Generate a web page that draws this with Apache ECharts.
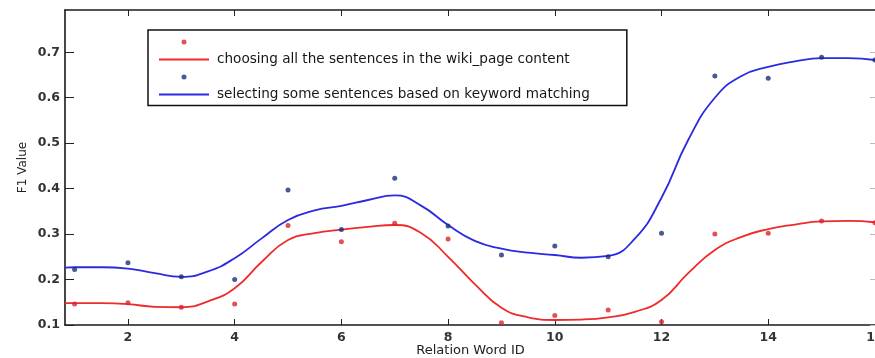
<!DOCTYPE html>
<html>
<head>
<meta charset="utf-8">
<script src="https://cdn.jsdelivr.net/npm/echarts@6/dist/echarts.min.js"></script>
<style>html,body{margin:0;padding:0;background:#fff;}#c{width:875px;height:358px;}</style>
</head>
<body>
<div id="c"></div>
<script>
const xTicks = [2, 4, 6, 8, 10, 12, 14, 16];
const yTicks = [0.1, 0.2, 0.3, 0.4, 0.5, 0.6, 0.7];
const ids = [1, 2, 3, 4, 5, 6, 7, 8, 9, 10, 11, 12, 13, 14, 15, 16];
const allPoints = [0.146, 0.149, 0.139, 0.146, 0.319, 0.283, 0.324, 0.289, 0.105, 0.121, 0.133, 0.107, 0.300, 0.302, 0.329, 0.325];
const kwPoints = [0.222, 0.237, 0.206, 0.200, 0.397, 0.310, 0.423, 0.318, 0.254, 0.274, 0.250, 0.302, 0.648, 0.643, 0.689, 0.683];
const curveX = [0.82, 1, 1.5, 2, 2.5, 3, 3.5, 4, 4.5, 5, 5.5, 6, 6.5, 7, 7.5, 8, 8.5, 9, 9.5, 10, 10.5, 11, 11.5, 12, 12.5, 13, 13.5, 14, 14.5, 15, 15.5, 16];
const allCurve = [0.148, 0.148, 0.148, 0.146, 0.140, 0.139, 0.152, 0.181, 0.238, 0.287, 0.302, 0.310, 0.316, 0.320, 0.302, 0.250, 0.190, 0.138, 0.117, 0.111, 0.112, 0.117, 0.129, 0.155, 0.214, 0.265, 0.294, 0.311, 0.321, 0.328, 0.329, 0.326];
const kwCurve = [0.226, 0.227, 0.227, 0.224, 0.214, 0.206, 0.218, 0.247, 0.290, 0.331, 0.352, 0.362, 0.375, 0.385, 0.362, 0.320, 0.285, 0.268, 0.259, 0.254, 0.248, 0.252, 0.290, 0.380, 0.507, 0.600, 0.648, 0.668, 0.680, 0.687, 0.687, 0.683];
const nameAll = 'choosing all the sentences in the wiki_page content';
const nameKw = 'selecting some sentences based on keyword matching';

const zip = (xs, ys) => xs.map((x, i) => [x, ys[i]]);
const FONT = 'DejaVu Sans';
const axisLine = { show: true, lineStyle: { color: '#1a1a1a', width: 1.6 } };
const hiddenDot = { color: 'rgba(0,0,0,0)', opacity: 0 };

const chart = echarts.init(document.getElementById('c'), null, { renderer: 'canvas' });
chart.setOption({
  animation: false,
  backgroundColor: '#fff',
  grid: { left: 65, right: -1, top: 10, bottom: 33, containLabel: false, outerBoundsMode: 'none' },
  legend: {
    orient: 'vertical',
    left: 148, top: 30,
    padding: [5, 37, 4, 10],
    itemGap: 3.5,
    itemWidth: 50, itemHeight: 5,
    borderColor: '#111', borderWidth: 1.5,
    textStyle: { fontFamily: FONT, fontSize: 13.6, color: '#161616', lineHeight: 14, padding: [0, 0, 0, 3] },
    data: [
      { name: ' ' },
      { name: nameAll, itemStyle: hiddenDot },
      { name: '  ' },
      { name: nameKw, itemStyle: hiddenDot }
    ]
  },
  xAxis: [{
    type: 'value', min: 0.82, max: 16.02, position: 'bottom',
    name: 'Relation Word ID', nameLocation: 'middle', nameGap: 19, nameMoveOverlap: false,
    nameTextStyle: { fontFamily: FONT, fontSize: 13, color: '#222' },
    axisLine: axisLine,
    axisTick: { show: true, inside: true, length: 6, customValues: xTicks, lineStyle: { color: '#222', width: 1 } },
    axisLabel: { customValues: xTicks, margin: 6, fontFamily: FONT, fontSize: 12.5, fontWeight: 'bold', color: '#333' },
    splitLine: { show: false }
  }, {
    type: 'value', min: 0.82, max: 16.02, position: 'top',
    axisLine: axisLine,
    axisTick: { show: true, inside: true, length: 6, customValues: xTicks, lineStyle: { color: '#222', width: 1 } },
    axisLabel: { show: false },
    splitLine: { show: false }
  }],
  yAxis: [{
    type: 'value', min: 0.1, max: 0.793, position: 'left',
    name: 'F1 Value', nameLocation: 'middle', nameGap: 36, nameRotate: 90, nameMoveOverlap: false,
    nameTextStyle: { fontFamily: FONT, fontSize: 12, color: '#222' },
    axisLine: axisLine,
    axisTick: { show: true, inside: true, length: 9, customValues: yTicks, lineStyle: { color: '#222', width: 1 } },
    axisLabel: { customValues: yTicks, margin: 5, fontFamily: FONT, fontSize: 12.5, fontWeight: 'bold', color: '#333', formatter: v => v.toFixed(1) },
    splitLine: { show: false }
  }, {
    type: 'value', min: 0.1, max: 0.793, position: 'right',
    axisLine: axisLine,
    axisTick: { show: true, inside: true, length: 6, customValues: yTicks, lineStyle: { color: '#bbb', width: 1 } },
    axisLabel: { show: false },
    splitLine: { show: false }
  }],
  series: [{
    name: ' ', type: 'scatter', symbol: 'circle', symbolSize: 5,
    itemStyle: { color: '#d8262c' },
    data: zip(ids, allPoints), z: 3
  }, {
    name: nameAll, type: 'line', smooth: 0.5, symbol: 'none',
    lineStyle: { color: '#ee2a2a', width: 1.8 },
    itemStyle: { color: '#ee2a2a' },
    data: zip(curveX, allCurve), z: 2
  }, {
    name: '  ', type: 'scatter', symbol: 'circle', symbolSize: 5,
    itemStyle: { color: '#1c2f7a' },
    data: zip(ids, kwPoints), z: 3
  }, {
    name: nameKw, type: 'line', smooth: 0.5, symbol: 'none',
    lineStyle: { color: '#2a2ae0', width: 1.8 },
    itemStyle: { color: '#2a2ae0' },
    data: zip(curveX, kwCurve), z: 2
  }]
});
</script>
</body>
</html>
